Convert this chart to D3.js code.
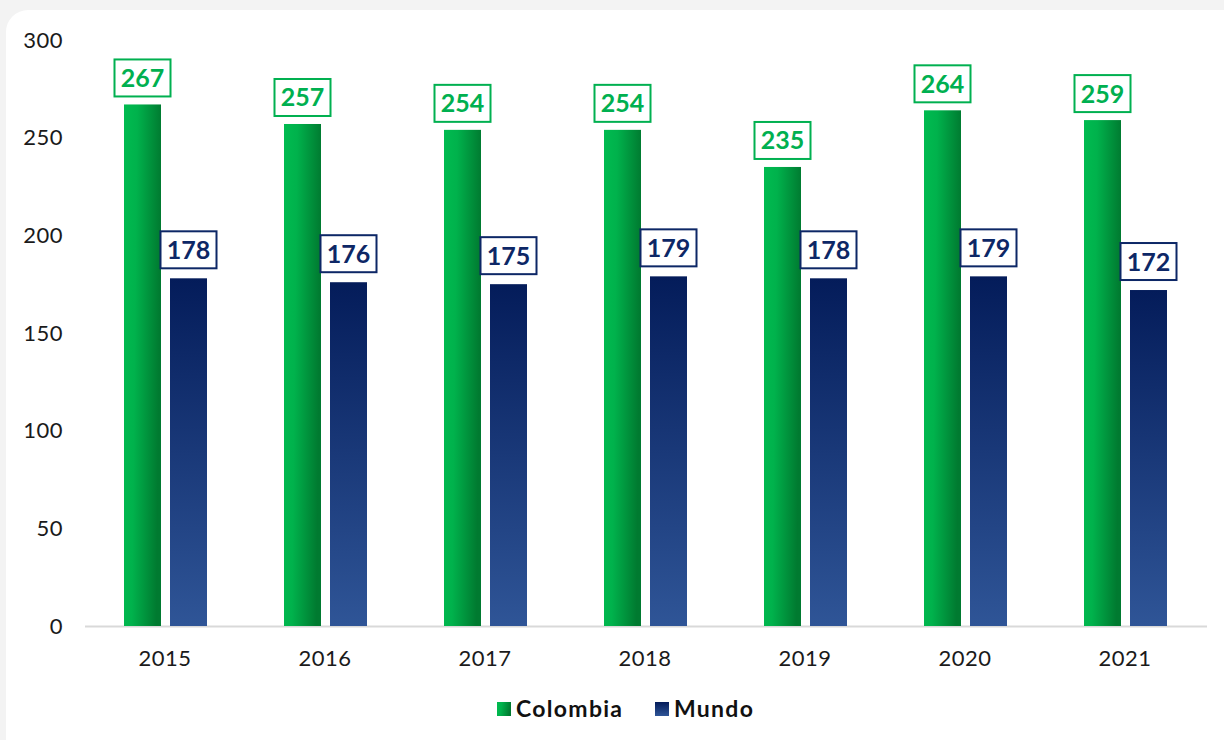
<!DOCTYPE html>
<html>
<head>
<meta charset="utf-8">
<script src="https://cdn.jsdelivr.net/npm/d3@7"></script>
<style>
  body { margin: 0; background: #f3f3f3; }
  svg { display: block; }
</style>
</head>
<body>
<svg id="chart"></svg>
<script>
// data
var years = ["2015", "2016", "2017", "2018", "2019", "2020", "2021"];
var colombia = [267, 257, 254, 254, 235, 264, 259];
var mundo = [178, 176, 175, 179, 178, 179, 172];
var seriesNames = ["Colombia", "Mundo"];
var yTicks = [0, 50, 100, 150, 200, 250, 300];

var svgWidth = 1224, svgHeight = 740;
var margin = {top: 40, right: 19, bottom: 114, left: 85};
var height = svgHeight - margin.top - margin.bottom;

var svg = d3.select("#chart")
	.attr("width", svgWidth)
	.attr("height", svgHeight);

var defs = svg.append("defs");
var gGreen = defs.append("linearGradient").attr("id", "gradGreen")
	.attr("x1", "0").attr("y1", "0").attr("x2", "1").attr("y2", "0.15");
gGreen.append("stop").attr("offset", "0").attr("stop-color", "#00bb50");
gGreen.append("stop").attr("offset", "0.35").attr("stop-color", "#00b24c");
gGreen.append("stop").attr("offset", "1").attr("stop-color", "#007a30");

var gBlue = defs.append("linearGradient").attr("id", "gradBlue")
	.attr("x1", "0").attr("y1", "0").attr("x2", "0").attr("y2", "1");
gBlue.append("stop").attr("offset", "0").attr("stop-color", "#041c5a");
gBlue.append("stop").attr("offset", "1").attr("stop-color", "#2f5597");

// white panel
svg.append("rect")
	.attr("x", 6).attr("y", 10)
	.attr("width", 1240).attr("height", 760)
	.attr("rx", 22)
	.attr("fill", "#ffffff");

var x = d3.scaleBand()
	.domain(years)
	.range([margin.left, svgWidth - margin.right]);

var y = d3.scaleLinear()
	.domain([0, 300])
	.range([margin.top + height, margin.top]);

var barW = 37, gap = 9;
var fills = ["url(#gradGreen)", "url(#gradBlue)"];
var textColors = ["#00b050", "#0d2766"];
var font = "Lato, sans-serif";

// axis labels
svg.append("g")
	.attr("transform", "translate(" + 63 + ",0)")
	.call(d3.axisLeft(y).tickValues(yTicks).tickSize(0).tickPadding(0))
	.call(function(g) { g.select(".domain").remove(); })
	.selectAll("text")
	.attr("font-family", font)
	.attr("font-size", 22)
	.attr("letter-spacing", "0.5px")
	.attr("fill", "#1a1a1a");

svg.append("line")
	.attr("x1", margin.left).attr("x2", svgWidth - margin.right + 2)
	.attr("y1", y(0) + 0.5).attr("y2", y(0) + 0.5)
	.attr("stroke", "#d9d9d9").attr("stroke-width", 2);

svg.append("g")
	.attr("transform", "translate(0," + (y(0) + 14) + ")")
	.call(d3.axisBottom(x).tickSize(0).tickPadding(10))
	.call(function(g) { g.select(".domain").remove(); })
	.selectAll("text")
	.attr("font-family", font)
	.attr("font-size", 22)
	.attr("letter-spacing", "0.5px")
	.attr("fill", "#1a1a1a");

var data = years.map(function(yr, i) {
	return {year: yr, vals: [colombia[i], mundo[i]]};
});

var groups = svg.selectAll(".grp")
	.data(data)
	.enter().append("g")
	.attr("class", "grp")
	.attr("transform", function(d) { return "translate(" + (x(d.year) + x.bandwidth() / 2) + ",0)"; });

groups.each(function(d) {
	var g = d3.select(this);
	d.vals.forEach(function(v, k) {
		var bx = k === 0 ? -(barW + gap / 2) + 0.5 : gap / 2 + 0.5;
		g.append("rect")
			.attr("x", bx)
			.attr("y", y(v))
			.attr("width", barW)
			.attr("height", y(0) - y(v))
			.attr("fill", fills[k]);
		var cx = bx + barW / 2;
		var bw = 56, bh = 37;
		var by = y(v) - (k === 0 ? 8 : 10) - bh;
		g.append("rect")
			.attr("x", cx - bw / 2)
			.attr("y", by)
			.attr("width", bw)
			.attr("height", bh)
			.attr("fill", "#ffffff")
			.attr("stroke", textColors[k])
			.attr("stroke-width", 2);
		g.append("text")
			.attr("x", cx)
			.attr("y", by + bh / 2)
			.attr("dy", "0.36em")
			.attr("text-anchor", "middle")
			.attr("font-family", font)
			.attr("font-weight", "bold")
			.attr("font-size", 25)
			.attr("fill", textColors[k])
			.text(v);
	});
});

// legend
var legendX = [497, 655];
var legend = svg.selectAll(".legend")
	.data(seriesNames)
	.enter().append("g")
	.attr("class", "legend")
	.attr("transform", function(d, i) { return "translate(" + legendX[i] + ",702)"; });

legend.append("rect")
	.attr("width", 14).attr("height", 14)
	.attr("fill", function(d, i) { return fills[i]; });

legend.append("text")
	.attr("x", 19).attr("y", 7)
	.attr("dy", "0.36em")
	.attr("font-family", font)
	.attr("font-weight", "bold")
	.attr("font-size", 23)
	.attr("letter-spacing", "1.3px")
	.attr("fill", "#111111")
	.text(function(d) { return d; });
</script>
</body>
</html>
